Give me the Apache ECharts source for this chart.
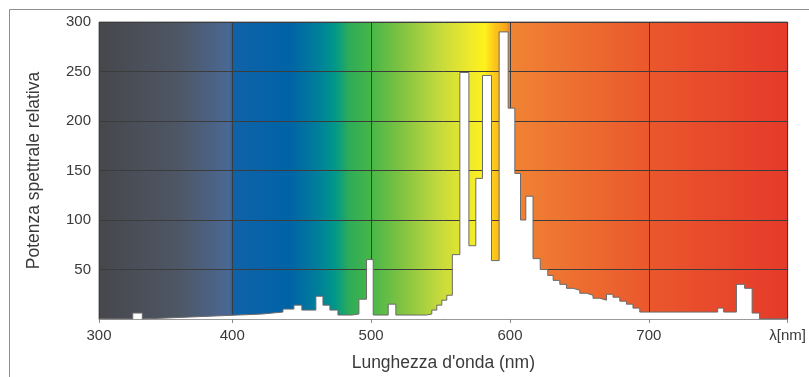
<!DOCTYPE html>
<html>
<head>
<meta charset="utf-8">
<script src="https://cdn.jsdelivr.net/npm/echarts@6/dist/echarts.min.js"></script>
<style>
  html, body { margin: 0; padding: 0; background: #fff; }
  #chart { width: 809px; height: 377px; }
</style>
</head>
<body>
<div id="chart"></div>
<script>
// Spettro relativo: bordi dei gradini (nm) e livelli.
// Un livello [a, b] indica un tratto in salita lineare da a a b.
const binEdges = [
  304, 328.3, 335.2, 421.3, 436.5, 444.4, 450.1, 460.2, 465.3, 470.3,
  476.1, 486.1, 491.2, 496.7, 501.5, 512.3, 517.8, 539.9, 543.7, 547.3,
  550.9, 554.5, 558.5, 563.9, 570.4, 575.4, 580.2, 586.7, 592.2, 598.7,
  603.5, 607.6, 611.4, 616.6, 621.8, 627.2, 631.1, 635.9, 640.7, 645.4,
  650.3, 655.1, 659.8, 664.7, 669.5, 674.2, 679.1, 683.9, 688.6, 693.5,
  749.6, 753.9, 763.1, 769.0, 774.4, 779.8, 800
];
const binPower = [
  0, 6, [0, 5], 7, 10, 14, 9, 23, 14, 9,
  4, 5, 20, 60, 4, 15, 4, 5, 9, 14,
  19, 24, 65, 249, 74, 142, 246, 59, 290, 213,
  147, 100, 124, 61, 50, 44, 39, 35, 31, 29,
  26, 24, 21, 19, 25, 22, 18, 15, 11, 7,
  11, 7, 35, 31, 6, 0
];

const X_MIN = 304;
const X_MAX = 800;
const Y_TICKS = [0, 50, 100, 150, 200, 250, 300];

// sfondo: spettro visibile da sinistra a destra
const SPECTRUM = [
  [0.000, "#47474c"],
  [0.118, "#4e5766"],
  [0.190, "#4a6894"],
  [0.195, "#1062a8"],
  [0.277, "#0063a7"],
  [0.321, "#00819a"],
  [0.343, "#00988a"],
  [0.364, "#2fac58"],
  [0.393, "#44b649"],
  [0.437, "#7dc242"],
  [0.495, "#c5da3c"],
  [0.538, "#eee92b"],
  [0.560, "#fff21c"],
  [0.575, "#fcc41a"],
  [0.591, "#f7a51e"],
  [0.595, "#f08434"],
  [0.800, "#ea572c"],
  [1.000, "#e53a2a"],
];

const TEXT = "#3a3a3a";
const GRID_LINE = "#3c3c3c";

// contorno a gradini dai bordi e dai livelli
const outline = [];
binPower.forEach((lv, i) => {
  const a = Array.isArray(lv) ? lv[0] : lv;
  const b = Array.isArray(lv) ? lv[1] : lv;
  outline.push([binEdges[i], a], [binEdges[i + 1], b]);
});

const chart = echarts.init(document.getElementById("chart"), null, { renderer: "canvas" });

chart.setOption({
  animation: false,
  textStyle: { fontFamily: "Liberation Sans, Arial, sans-serif" },
  graphic: [
    {
      type: "rect",
      silent: true,
      shape: { x: 9.5, y: 9.5, width: 900, height: 500 },
      style: { fill: "none", stroke: "#8c8c8c", lineWidth: 1 },
    },
  ],
  grid: {
    left: 99,
    right: 21,
    top: 22,
    bottom: 55,
    show: true,
    backgroundColor: new echarts.graphic.LinearGradient(0, 0, 1, 0, SPECTRUM.map(([offset, color]) => ({ offset, color }))),
    borderColor: "#707070",
    borderWidth: 1,
  },
  xAxis: {
    type: "value",
    min: X_MIN,
    max: X_MAX,
    offset: 1,
    name: "Lunghezza d'onda (nm)",
    nameLocation: "middle",
    nameGap: 34,
    nameTextStyle: { fontSize: 17.5, color: TEXT },
    axisLine: { show: true, lineStyle: { color: "#9a9a9a", width: 1 } },
    axisTick: { show: true, length: 4, lineStyle: { color: "#8a8a8a" } },
    axisLabel: {
      fontSize: 15,
      color: TEXT,
      margin: 8,
      formatter: (v) => (v === X_MIN ? "300" : v === X_MAX ? "λ[nm]" : String(v)),
    },
    splitLine: { show: true, lineStyle: { color: GRID_LINE, width: 1 } },
  },
  yAxis: {
    type: "value",
    min: Y_TICKS[0],
    max: Y_TICKS[Y_TICKS.length - 1],
    interval: 50,
    name: "Potenza spettrale relativa",
    nameLocation: "middle",
    nameGap: 56,
    nameTextStyle: { fontSize: 17.5, color: TEXT },
    axisLine: { show: false },
    axisTick: { show: false },
    axisLabel: {
      fontSize: 15,
      color: TEXT,
      margin: 8,
      padding: [5, 0, 0, 0],
      formatter: (v) => (v === 0 ? "" : String(v)),
    },
    splitLine: { show: true, lineStyle: { color: GRID_LINE, width: 1 } },
  },
  series: [
    {
      type: "line",
      data: outline,
      showSymbol: false,
      symbol: "none",
      lineStyle: { color: "#6a6a6a", width: 1 },
      areaStyle: { color: "#ffffff", opacity: 1 },
      z: 3,
    },
  ],
});
</script>
</body>
</html>
